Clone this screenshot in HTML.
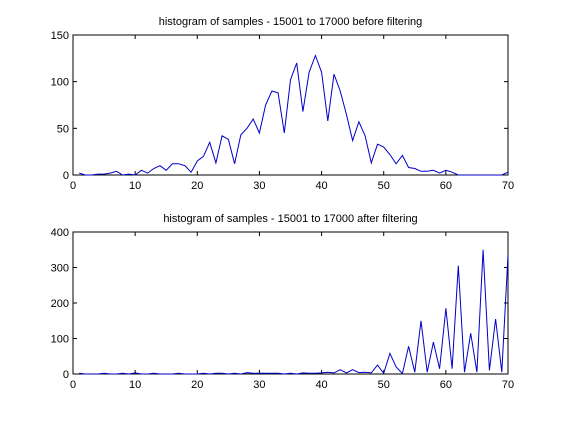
<!DOCTYPE html>
<html><head><meta charset="utf-8"><style>
body{margin:0;background:#fff;width:561px;height:420px;overflow:hidden}
svg{font-family:"Liberation Sans",sans-serif}
</style></head><body>
<svg id="fig" width="561" height="420"></svg>
<script>
const xTicks=[0,10,20,30,40,50,60,70];
const topTicks=[0,50,100,150];
const botTicks=[0,100,200,300,400];
const topTitle="histogram of samples - 15001 to 17000 before filtering";
const botTitle="histogram of samples - 15001 to 17000 after filtering";
const topValues=[2,0,0,1,1,2,4,0,1,0,5,2,7,10,5,12,12,10,3,15,20,35,13,42,38,12,43,50,60,45,75,90,88,45,102,120,68,110,128,110,58,108,90,65,37,57,42,13,33,30,22,12,21,8,7,4,4,5,2,5,3,0,0,0,0,0,0,0,0,3];
const botValues=[2,0,0,0,2,0,0,2,0,3,0,0,2,0,0,0,2,0,0,0,2,0,2,2,0,2,0,4,2,2,2,2,2,0,2,0,3,2,2,3,5,3,12,3,12,4,5,3,25,2,58,20,1,78,5,150,5,90,15,185,15,305,5,115,5,350,10,155,5,335];
const NS="http://www.w3.org/2000/svg";
const svg=document.getElementById('fig');
function mk(t,a,p){const e=document.createElementNS(NS,t);for(const k in a)e.setAttribute(k,a[k]);(p||svg).appendChild(e);return e;}
function panel(name,top,bottom,ymax,yt,vals,title){
 const L=73,R=508;
 const g=mk('g',{});
 
 
 const sx=v=>L+(R-L)*v/70, sy=v=>bottom-(bottom-top)*v/ymax;
 const fr=mk('rect',{x:L,y:top,width:R-L,height:bottom-top,fill:'#fff',stroke:'#000','stroke-width':1},g);
 
 
 xTicks.forEach(t=>{const x=sx(t);
  mk('line',{x1:x,x2:x,y1:bottom,y2:bottom-4,stroke:'#000'},g);
  mk('line',{x1:x,x2:x,y1:top,y2:top+4,stroke:'#000'},g);
  const tx=mk('text',{x:x,y:bottom+14,'font-size':11,'text-anchor':'middle'},g);tx.textContent=t;
  
  });
 yt.forEach(t=>{const y=sy(t);
  mk('line',{x1:L,x2:L+4,y1:y,y2:y,stroke:'#000'},g);
  mk('line',{x1:R,x2:R-4,y1:y,y2:y,stroke:'#000'},g);
  const tx=mk('text',{x:L-4,y:y+4,'font-size':11,'text-anchor':'end'},g);tx.textContent=t;
  
  });
 const pts=vals.map((v,i)=>sx(i+1).toFixed(1)+','+sy(v).toFixed(1)).join(' ');
 const pl=mk('polyline',{points:pts,fill:'none',stroke:'#0000c8','stroke-width':1},g);
 
 
 const tt=mk('text',{x:(L+R)/2,y:top-10,'font-size':11,'text-anchor':'middle'},g);tt.textContent=title;
 
 
}
panel('top-plot',35,175,150,topTicks,topValues,topTitle);
panel('bottom-plot',232,374,400,botTicks,botValues,botTitle);
</script>
</body></html>
